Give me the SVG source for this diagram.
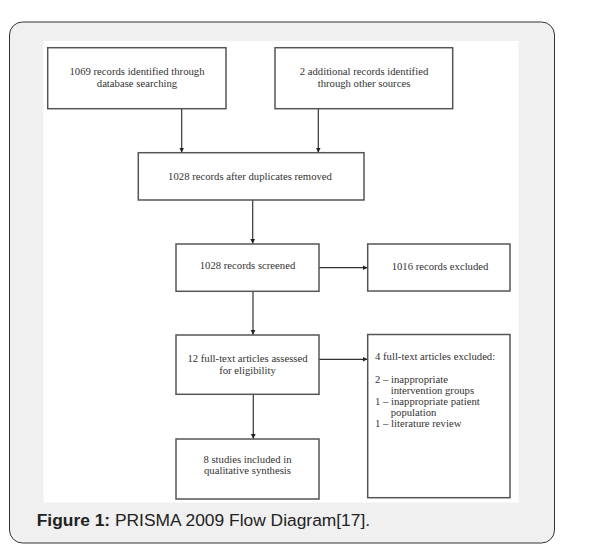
<svg xmlns="http://www.w3.org/2000/svg" width="591" height="557" viewBox="0 0 591 557">
<defs>
<marker id="ah" markerWidth="6" markerHeight="6" refX="5" refY="3" orient="auto" markerUnits="userSpaceOnUse">
<path d="M0,0.5 L5,3 L0,5.5 Z" fill="#222"/>
</marker>
<style>
.box{fill:#fff;stroke:#555;stroke-width:1.5}
.t{font-family:"Liberation Serif","Times New Roman",serif;font-size:10.7px;fill:#333}
.c{text-anchor:middle}
.con{stroke:#333;stroke-width:1.2;fill:none;marker-end:url(#ah)}
.cap{font-family:"Liberation Sans",Arial,sans-serif;font-size:17.4px;fill:#222}
</style>
</defs>
<rect x="0" y="0" width="591" height="557" fill="#fff"/>
<rect x="9.5" y="22" width="545" height="521" rx="13" ry="13" fill="#f0f0f0" stroke="#333" stroke-width="1"/>
<rect x="43.5" y="41" width="475" height="461.5" fill="#fff"/>
<g id="connectors">
<line class="con" x1="181.7" y1="108.7" x2="181.7" y2="152.5"/>
<line class="con" x1="318.3" y1="108.7" x2="318.3" y2="152.5"/>
<line class="con" x1="252.7" y1="200" x2="252.7" y2="243.8"/>
<line class="con" x1="253" y1="291.3" x2="253" y2="334.8"/>
<line class="con" x1="253.3" y1="394.3" x2="253.3" y2="438.8"/>
<line class="con" x1="319" y1="267.7" x2="367.5" y2="267.7"/>
<line class="con" x1="319" y1="359.3" x2="367.5" y2="359.3"/>
</g>
<g id="n1">
<rect class="box" x="47.7" y="47.7" width="178.3" height="61"/>
<text class="t c" x="137" y="75">1069 records identified through</text>
<text class="t c" x="137" y="87">database searching</text>
</g>
<g id="n2">
<rect class="box" x="275" y="47.7" width="177.7" height="61"/>
<text class="t c" x="364" y="74.5">2 additional records identified</text>
<text class="t c" x="364" y="86.5">through other sources</text>
</g>
<g id="n3">
<rect class="box" x="138.3" y="152.7" width="225.7" height="47.3"/>
<text class="t c" x="250" y="180">1028 records after duplicates removed</text>
</g>
<g id="n4">
<rect class="box" x="176" y="244" width="143" height="47.3"/>
<text class="t c" x="247.5" y="269">1028 records screened</text>
</g>
<g id="n5">
<rect class="box" x="367.7" y="244" width="142.3" height="47"/>
<text class="t c" x="440" y="270">1016 records excluded</text>
</g>
<g id="n6">
<rect class="box" x="176" y="335" width="143" height="59.3"/>
<text class="t c" x="247.5" y="361.5">12 full-text articles assessed</text>
<text class="t c" x="247.5" y="373.5">for eligibility</text>
</g>
<g id="n7">
<rect class="box" x="176" y="439" width="143" height="60"/>
<text class="t c" x="247.5" y="462.5">8 studies included in</text>
<text class="t c" x="247.5" y="474">qualitative synthesis</text>
</g>
<g id="n8">
<rect class="box" x="367.7" y="334.5" width="142.3" height="163.2"/>
<text class="t" x="375" y="360">4 full-text articles excluded:</text>
<text class="t" x="375" y="382.5">2 – inappropriate</text>
<text class="t" x="390.7" y="393.5">intervention groups</text>
<text class="t" x="375" y="404.5">1 – inappropriate patient</text>
<text class="t" x="390.7" y="415.5">population</text>
<text class="t" x="375" y="426.5">1 – literature review</text>
</g>
<text class="cap" x="36.7" y="526"><tspan font-weight="bold">Figure 1:</tspan> PRISMA 2009 Flow Diagram[17].</text>
</svg>
